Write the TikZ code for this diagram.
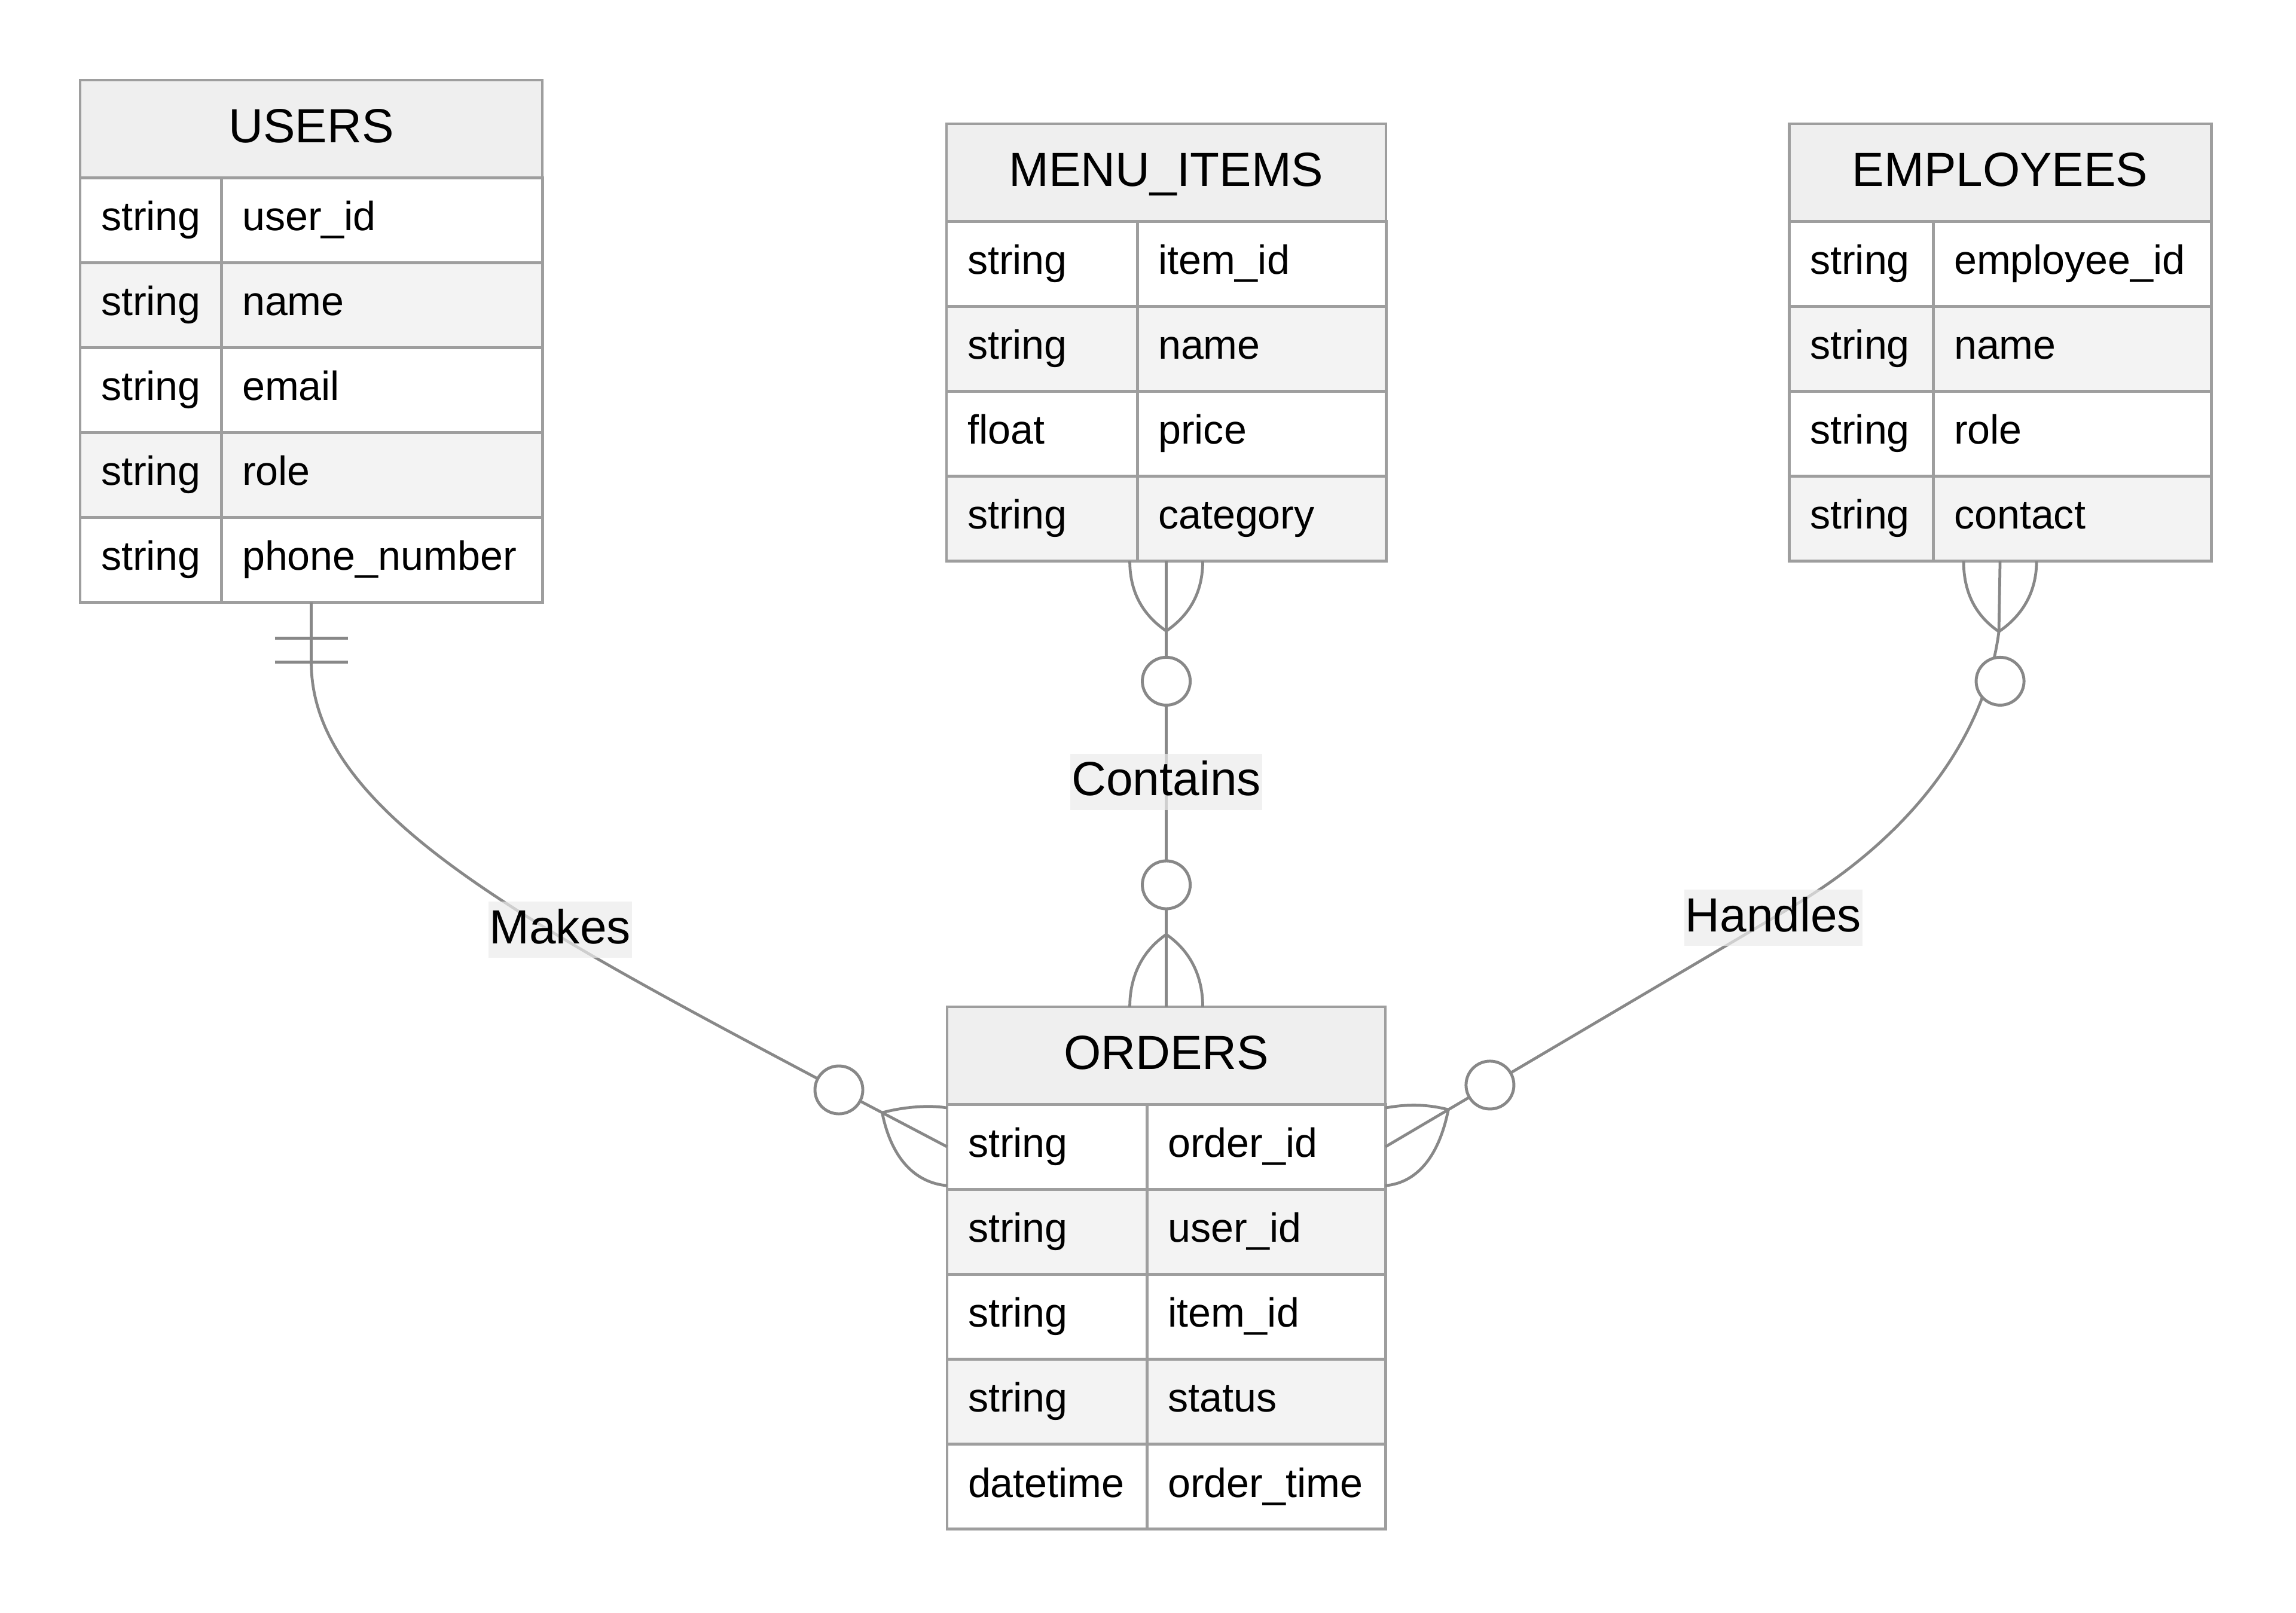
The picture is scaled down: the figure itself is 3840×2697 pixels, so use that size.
\documentclass[tikz,border=0pt]{standalone}
\usepackage{fontspec}
\setmainfont{Liberation Sans}
\usetikzlibrary{calc,fit}
\definecolor{erborder}{HTML}{9E9E9E}
\definecolor{erwire}{HTML}{888888}
\definecolor{headgray}{HTML}{EFEFEF}
\definecolor{rowgray}{HTML}{F3F3F3}
\definecolor{labelgray}{HTML}{ECECEC}
\newlength\pxl
\setlength\pxl{0.01cm}
\tikzset{
  erhead/.style={draw=erborder, fill=headgray, line width=1.4pt, inner sep=0pt, outer sep=0pt,
    minimum height=1.63cm, text height=0.64cm, text depth=0.19cm,
    font=\fontsize{22.8pt}{27pt}\selectfont},
  ercell/.style={draw=erborder, line width=1.4pt, inner xsep=0.35cm, inner ysep=0pt, outer sep=0pt,
    minimum height=1.42cm, text height=0.52cm, text depth=0.17cm, align=left,
    font=\fontsize{19.4pt}{23pt}\selectfont},
  erline/.style={draw=erwire, line width=1.35pt},
  ercircle/.style={circle, draw=erwire, line width=1.4pt, fill=white, minimum size=0.8cm, inner sep=0pt},
  erlabel/.style={fill=labelgray, fill opacity=0.7, text opacity=1, inner xsep=0.02cm, inner ysep=0pt,
    text height=0.7cm, text depth=0.24cm, font=\fontsize{22.8pt}{27pt}\selectfont}
}
% #1 name, #2 top left, #3 type column, #4 name column, #5 title, #6 rows
\newcommand\ertable[6]{%
  \pgfmathsetlengthmacro\erwd{(#3+#4)*\pxl}
  \pgfmathsetlengthmacro\erta{(#3-70)*\pxl}
  \pgfmathsetlengthmacro\ertb{(#4-70)*\pxl}
  \node[erhead, anchor=north west, minimum width=\erwd] (#1-head) at (#2) {#5};
  \foreach \ty/\nm [count=\i] in {#6} {
    \pgfmathtruncatemacro\j{\i-1}
    \ifnum\i=1 \def\erprev{#1-head}\else \def\erprev{#1-t\j}\fi
    \ifodd\i \def\erfill{white}\else \def\erfill{rowgray}\fi
    \node[ercell, fill=\erfill, text width=\erta, anchor=north west] (#1-t\i) at (\erprev.south west) {\ty};
    \node[ercell, fill=\erfill, text width=\ertb, anchor=north west] (#1-n\i) at (#1-t\i.north east) {\nm};
    \global\let\erlast\i
  }
  \node[fit=(#1-head)(#1-n\erlast), inner sep=0pt, outer sep=0pt] (#1) {};
}

\begin{document}
\begin{tikzpicture}[x=0.01cm, y=-0.01cm]
\path[use as bounding box, fill=white] (0,0) rectangle (3840,2697);

\ertable{users}{134,134}{236}{537}{USERS}{string/user\_id, string/name, string/email, string/role, string/phone\_number}
\ertable{menu}{1583,207}{319}{416}{MENU\_ITEMS}{string/item\_id, string/name, float/price, string/category}
\ertable{employees}{2992,207}{241}{465}{EMPLOYEES}{string/employee\_id, string/name, string/role, string/contact}
\ertable{orders}{1584,1684}{334}{399}{ORDERS}{string/order\_id, string/user\_id, string/item\_id, string/status, datetime/order\_time}

% Makes
\draw[erline] (users.south) -- ++(0,100) coordinate (mk-s)
  .. controls +(0,250) and (873,1542) .. (1403,1823) node[erlabel, pos=0.665, yshift=3.4pt] (mk-lbl) {Makes} coordinate (mk-o)
  -- (orders-t1.west) coordinate[pos=0.4] (mk-j);
\draw[erline] ($(users.south)+(-61,60)$) -- ++(122,0);
\draw[erline] ($(users.south)+(-61,100)$) -- ++(122,0);
\draw[erline] (mk-j) .. controls +(45,-12) and +(-22,-4) .. ($(orders-t1.west)+(0,-65)$);
\draw[erline] (mk-j) .. controls +(15,75) and +(-55,-5) .. ($(orders-t1.west)+(0,65)$);

% Contains
\draw[erline] (menu.south) -- (orders.north) node[erlabel, midway, yshift=1pt] (ct-lbl) {Contains};
\coordinate (ct-j1) at ($(menu.south)+(0,117)$);
\coordinate (ct-j2) at ($(orders.north)+(0,-121)$);
\draw[erline] (ct-j1) .. controls +(-41,-28) and +(0,50) .. ($(menu.south)+(-61,0)$);
\draw[erline] (ct-j1) .. controls +(41,-28) and +(0,50) .. ($(menu.south)+(61,0)$);
\draw[erline] (ct-j2) .. controls +(-41,28) and +(0,-50) .. ($(orders.north)+(-61,0)$);
\draw[erline] (ct-j2) .. controls +(41,28) and +(0,-50) .. ($(orders.north)+(61,0)$);

% Handles
\draw[erline] (employees.south) -- ++(-2,118) coordinate (hd-j1)
  .. controls +(-26,198) and (3172,1413) .. (3000,1515) coordinate (hd-k)
  -- (orders-n1.east) node[erlabel, pos=0.05] (hd-lbl) {Handles}
  coordinate[pos=0.744] (hd-o2) coordinate[pos=0.846] (hd-j2);
\draw[erline] (hd-j1) .. controls +(-41,-28) and +(0,50) .. ($(employees.south)+(-61,0)$);
\draw[erline] (hd-j1) .. controls +(41,-28) and +(0,50) .. ($(employees.south)+(61,0)$);
\draw[erline] (hd-j2) .. controls +(-45,-12) and +(22,-4) .. ($(orders-n1.east)+(0,-65)$);
\draw[erline] (hd-j2) .. controls +(-15,75) and +(55,-5) .. ($(orders-n1.east)+(0,65)$);

\node[ercircle] (mk-c) at (mk-o) {};
\node[ercircle] (ct-c1) at ($(menu.south)+(0,201)$) {};
\node[ercircle] (ct-c2) at ($(orders.north)+(0,-204)$) {};
\node[ercircle] (hd-c1) at ($(employees.south)+(0,201)$) {};
\node[ercircle] (hd-c2) at (hd-o2) {};
\end{tikzpicture}
\end{document}
